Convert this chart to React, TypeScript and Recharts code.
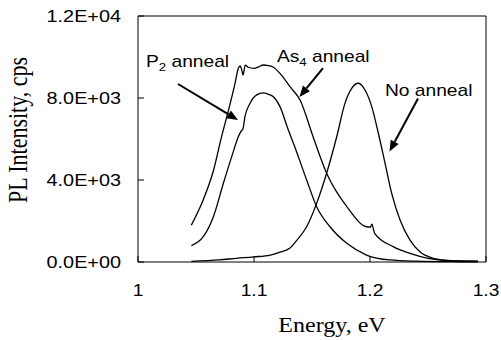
import React from 'react';
import { LineChart, Line, XAxis, YAxis, ReferenceArea, ReferenceLine, ReferenceDot, Label } from 'recharts';

// PL spectra (energy in eV, intensity in cps)
const as4Energy = [1.046, 1.056, 1.065, 1.072, 1.078, 1.0836, 1.0865, 1.088, 1.0895, 1.0905, 1.0925, 1.095, 1.1, 1.104, 1.108, 1.1125, 1.1167, 1.1224, 1.131, 1.1397, 1.151, 1.1626, 1.18, 1.197, 1.2005, 1.2015, 1.204, 1.22, 1.2345, 1.25, 1.27, 1.293];
const as4Intensity = [1800, 3000, 4450, 6100, 7400, 8700, 9450, 9560, 9350, 9120, 9600, 9500, 9450, 9520, 9610, 9580, 9500, 9200, 8550, 7900, 6100, 4330, 2700, 1720, 1700, 1850, 1400, 750, 420, 180, 60, 30];

const p2Energy = [1.046, 1.0563, 1.065, 1.0736, 1.0808, 1.0865, 1.0885, 1.0905, 1.0922, 1.0966, 1.1023, 1.108, 1.1125, 1.1167, 1.1224, 1.1296, 1.134, 1.1454, 1.154, 1.1655, 1.18, 1.197, 1.217, 1.24, 1.27, 1.293];
const p2Intensity = [800, 1235, 2210, 3840, 5140, 6110, 6350, 6500, 7090, 7740, 8150, 8250, 8180, 8060, 7580, 6440, 5790, 4000, 2700, 1720, 910, 340, 100, 40, 15, 10];

const noAnnealEnergy = [1.046, 1.07, 1.085, 1.1, 1.114, 1.1224, 1.131, 1.137, 1.1454, 1.154, 1.1626, 1.1713, 1.1784, 1.1842, 1.19, 1.1957, 1.2015, 1.2072, 1.213, 1.2187, 1.2259, 1.2345, 1.243, 1.2546, 1.269, 1.293];
const noAnnealIntensity = [30, 100, 180, 250, 340, 480, 680, 1070, 1720, 2860, 4330, 6110, 7740, 8470, 8720, 8390, 7580, 6280, 4810, 3350, 2050, 1070, 500, 180, 65, 40];

const xTicks = [1, 1.1, 1.2, 1.3];
const yTicks = [0, 4000, 8000, 12000];

const toSeries = (xs: number[], ys: number[]) => xs.map((e, i) => ({ e, v: ys[i] }));
const as4Data = toSeries(as4Energy, as4Intensity);
const p2Data = toSeries(p2Energy, p2Intensity);
const noAnnealData = toSeries(noAnnealEnergy, noAnnealIntensity);

const SANS = '"Liberation Sans", Arial, sans-serif';
const SERIF = '"Liberation Serif", "Times New Roman", serif';
const STRETCH = 1.2;

const fmtExp = (v: number) => {
  if (v === 0) return '0.0E+00';
  const exp = Math.floor(Math.log10(v));
  const m = (v / Math.pow(10, exp)).toFixed(1);
  return `${m}E+${String(exp).padStart(2, '0')}`;
};

const YTick = (props: any) => {
  const { x, y, payload } = props;
  return (
    <g>
      <line x1={x} x2={x + 6} y1={y} y2={y} stroke="#000" />
      <text transform={`translate(${x - 17},${y + 5.5}) scale(1.24,1)`} textAnchor="end" fontFamily={SANS} fontSize={16} fill="#000">
        {fmtExp(payload.value)}
      </text>
    </g>
  );
};

const XTick = (props: any) => {
  const { x, y, payload } = props;
  return (
    <g>
      <line x1={x} x2={x} y1={y} y2={y - 6} stroke="#000" />
      <text transform={`translate(${x},${y + 34}) scale(${STRETCH},1)`} textAnchor="middle" fontFamily={SANS} fontSize={16} fill="#000">
        {payload.value}
      </text>
    </g>
  );
};

const YTitle = (props: any) => {
  const { x, y, height } = props.viewBox;
  return (
    <text transform={`translate(${x + 27},${y + height / 2 - 9}) scale(${STRETCH},1) rotate(-90)`} textAnchor="middle" fontFamily={SERIF} fontSize={22} fill="#000">
      PL Intensity, cps
    </text>
  );
};

const XTitle = (props: any) => {
  const { x, y, width } = props.viewBox;
  return (
    <text transform={`translate(${x + width / 2 + 20},${y + 70}) scale(${STRETCH},1)`} textAnchor="middle" fontFamily={SERIF} fontSize={20} fill="#000">
      Energy, eV
    </text>
  );
};

const Arrow = (props: any) => {
  const { x1, y1, x2, y2 } = props;
  const ang = Math.atan2(y2 - y1, x2 - x1);
  const len = 11;
  const half = 4.5;
  const bx = x2 - len * Math.cos(ang);
  const by = y2 - len * Math.sin(ang);
  const px = -Math.sin(ang) * half;
  const py = Math.cos(ang) * half;
  return (
    <g>
      <line x1={x1} y1={y1} x2={bx} y2={by} stroke="#000" strokeWidth={2} />
      <polygon points={`${x2},${y2} ${bx + px},${by + py} ${bx - px},${by - py}`} fill="#000" />
    </g>
  );
};

const annotation = (main: string, sub: string, rest: string) => (props: any) => {
  const { cx, cy } = props;
  return (
    <text transform={`translate(${cx},${cy}) scale(${STRETCH},1)`} fontFamily={SANS} fontSize={16} fill="#000">
      {main}
      <tspan fontSize={11} dy={4}>{sub}</tspan>
      <tspan dy={-4}>{rest}</tspan>
    </text>
  );
};

export default function App() {
  return (
    <div style={{ position: 'absolute', left: 0, top: 0, background: '#fff' }}>
      <LineChart width={501} height={340} margin={{ top: 16, right: 15, left: 0, bottom: 0 }}>
        <XAxis
          dataKey="e"
          type="number"
          domain={[1, 1.3]}
          ticks={xTicks}
          allowDataOverflow
          axisLine={false}
          tickLine={false}
          tickSize={0}
          tickMargin={0}
          height={78}
          tick={<XTick />}
        >
          <Label content={<XTitle />} />
        </XAxis>
        <YAxis
          type="number"
          domain={[0, 12000]}
          ticks={yTicks}
          axisLine={false}
          tickLine={false}
          tickSize={0}
          tickMargin={0}
          width={138}
          tick={<YTick />}
        >
          <Label content={<YTitle />} />
        </YAxis>
        <ReferenceArea x1={1} x2={1.3} y1={0} y2={12000} fill="none" stroke="#000" strokeWidth={1} />
        <Line data={as4Data} dataKey="v" type="monotone" stroke="#000" strokeWidth={1.3} dot={false} isAnimationActive={false} />
        <Line data={p2Data} dataKey="v" type="monotone" stroke="#000" strokeWidth={1.3} dot={false} isAnimationActive={false} />
        <Line data={noAnnealData} dataKey="v" type="monotone" stroke="#000" strokeWidth={1.3} dot={false} isAnimationActive={false} />
        <ReferenceLine segment={[{ x: 1.0345, y: 8683 }, { x: 1.0862, y: 6927 }]} shape={<Arrow />} />
        <ReferenceLine segment={[{ x: 1.1595, y: 9463 }, { x: 1.1392, y: 8049 }]} shape={<Arrow />} />
        <ReferenceLine segment={[{ x: 1.2414, y: 7976 }, { x: 1.2168, y: 5390 }]} shape={<Arrow />} />
        <ReferenceDot x={1.0069} y={9512} r={0} shape={annotation('P', '2', ' anneal')} />
        <ReferenceDot x={1.1198} y={9756} r={0} shape={annotation('As', '4', ' anneal')} />
        <ReferenceDot x={1.2129} y={8098} r={0} shape={annotation('No anneal', '', '')} />
      </LineChart>
    </div>
  );
}
